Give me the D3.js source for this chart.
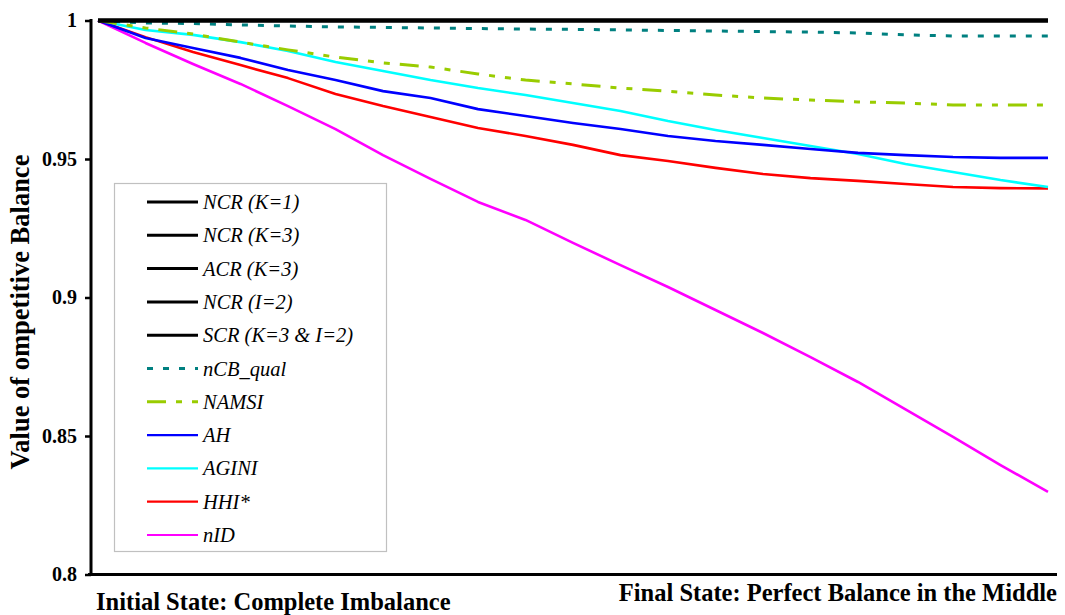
<!DOCTYPE html>
<html><head><meta charset="utf-8">
<script src="https://cdn.jsdelivr.net/npm/d3@7"></script>
<style>body{margin:0;background:#fff}svg{display:block}</style>
</head><body>
<svg id="c" width="1065" height="615"></svg>
<script>
const steps = d3.range(21);
const yTicks = [0.8, 0.85, 0.9, 0.95, 1];
const yTickLabels = ["0.8", "0.85", "0.9", "0.95", "1"];
const ncrK1 = steps.map(() => 1);
const ncrK3 = steps.map(() => 1);
const acrK3 = steps.map(() => 1);
const ncrI2 = steps.map(() => 1);
const scr = steps.map(() => 1);
const nCBqual = [1,0.9991,0.9989,0.9984,0.9980,0.9977,0.9975,0.9973,0.9971,0.9969,0.9968,0.9966,0.9964,0.9962,0.9960,0.9958,0.9955,0.9948,0.9944,0.9944,0.9944];
const namsi = [1,0.9973,0.9951,0.9922,0.9894,0.9868,0.9847,0.9832,0.9807,0.9785,0.9771,0.9756,0.9745,0.9731,0.9720,0.9713,0.9706,0.9702,0.9695,0.9695,0.9695];
const ah = [1,0.9937,0.9901,0.9865,0.9821,0.9785,0.9745,0.9720,0.9680,0.9655,0.9630,0.9608,0.9583,0.9565,0.9551,0.9536,0.9522,0.9514,0.9507,0.9504,0.9504];
const agini = [1,0.9966,0.9948,0.9922,0.9890,0.9850,0.9818,0.9785,0.9756,0.9731,0.9702,0.9673,0.9637,0.9605,0.9576,0.9547,0.9518,0.9482,0.9453,0.9424,0.9399];
const hhi = [1,0.9940,0.9886,0.9839,0.9792,0.9735,0.9691,0.9652,0.9612,0.9583,0.9551,0.9514,0.9493,0.9468,0.9446,0.9431,0.9421,0.9410,0.9399,0.9395,0.9394];
const nID = [1,0.9919,0.9843,0.9771,0.9691,0.9608,0.9514,0.9428,0.9345,0.9280,0.9197,0.9117,0.9038,0.8955,0.8872,0.8785,0.8695,0.8596,0.8497,0.8395,0.8298];

const seriesNames = ["NCR (K=1)","NCR (K=3)","ACR (K=3)","NCR (I=2)","SCR (K=3 & I=2)","nCB_qual","NAMSI","AH","AGINI","HHI*","nID"];
const seriesValues = [ncrK1,ncrK3,acrK3,ncrI2,scr,nCBqual,namsi,ah,agini,hhi,nID];
const seriesColors = ["#000","#000","#000","#000","#000","#008080","#99cc00","#0000ff","#00ffff","#ff0000","#ff00ff"];
const seriesDash = [null,null,null,null,null,"6,10","19,10,6,10,6,10",null,null,null,null];
const seriesWidth = [3.4,3.4,3.4,3.4,3.4,3,3,2.6,2.6,2.6,2.6];

const FONT = "'Liberation Serif', 'Times New Roman', Times, serif";
const svg = d3.select("#c");
const x = d3.scaleLinear().domain([0,20]).range([98,1048]);
const y = d3.scaleLinear().domain([0.8,1]).range([574.5,20.5]);

// axes
const yAxis = d3.axisLeft(y).tickValues(yTicks).tickFormat((d,i)=>yTickLabels[i]).tickSize(6).tickPadding(8);
const ga = svg.append("g").attr("transform","translate(91,0)").call(yAxis);
ga.attr("font-family",FONT);
ga.select(".domain").remove();
ga.selectAll(".tick line").attr("stroke","#000").attr("stroke-width",2.5);
ga.selectAll(".tick text").style("font-family",FONT).attr("font-weight","bold").attr("font-size",20).attr("fill","#000");
svg.append("line").attr("x1",91).attr("x2",91).attr("y1",19).attr("y2",576).attr("stroke","#000").attr("stroke-width",3);
svg.append("line").attr("x1",88).attr("x2",1057).attr("y1",y(0.8)).attr("y2",y(0.8)).attr("stroke","#000").attr("stroke-width",3);

// lines (draw in reverse so black on top)
const line = d3.line().x((d,i)=>x(steps[i])).y(d=>y(d));
const order = [10,9,8,7,6,5,4,3,2,1,0];
order.forEach(k=>{
  svg.append("path").datum(seriesValues[k]).attr("d",line).attr("fill","none")
    .attr("stroke",seriesColors[k]).attr("stroke-width",seriesWidth[k])
    .attr("stroke-dasharray",seriesDash[k]).attr("stroke-linejoin","round");
});

// legend
const lg = svg.append("g");
lg.append("rect").attr("x",114.5).attr("y",183.5).attr("width",272).attr("height",368).attr("fill","#fff").attr("stroke","#c0c0c0").attr("stroke-width",1.2);
seriesNames.forEach((n,i)=>{
  const yy = 202 + i*33.3;
  lg.append("line").attr("x1",147).attr("x2",198).attr("y1",yy).attr("y2",yy)
    .attr("stroke",seriesColors[i]).attr("stroke-width", i<7?3:2.2).attr("stroke-dasharray",seriesDash[i]);
  lg.append("text").attr("x",203).attr("y",yy+7).text(n)
    .style("font-family",FONT).attr("font-style","italic").attr("font-size",20.5).attr("fill","#000");
});

// labels
svg.append("text").attr("transform","translate(29,312) rotate(-90)").attr("text-anchor","middle")
  .style("font-family",FONT).attr("font-weight","bold").attr("font-size",26.5).text("Value of ompetitive Balance");
svg.append("text").attr("x",96).attr("y",610).style("font-family",FONT).attr("font-weight","bold").attr("font-size",24.5).text("Initial State: Complete Imbalance");
svg.append("text").attr("x",1057).attr("y",601).attr("text-anchor","end").style("font-family",FONT).attr("font-weight","bold").attr("font-size",24.5).text("Final State: Perfect Balance in the Middle");
</script>
</body></html>
